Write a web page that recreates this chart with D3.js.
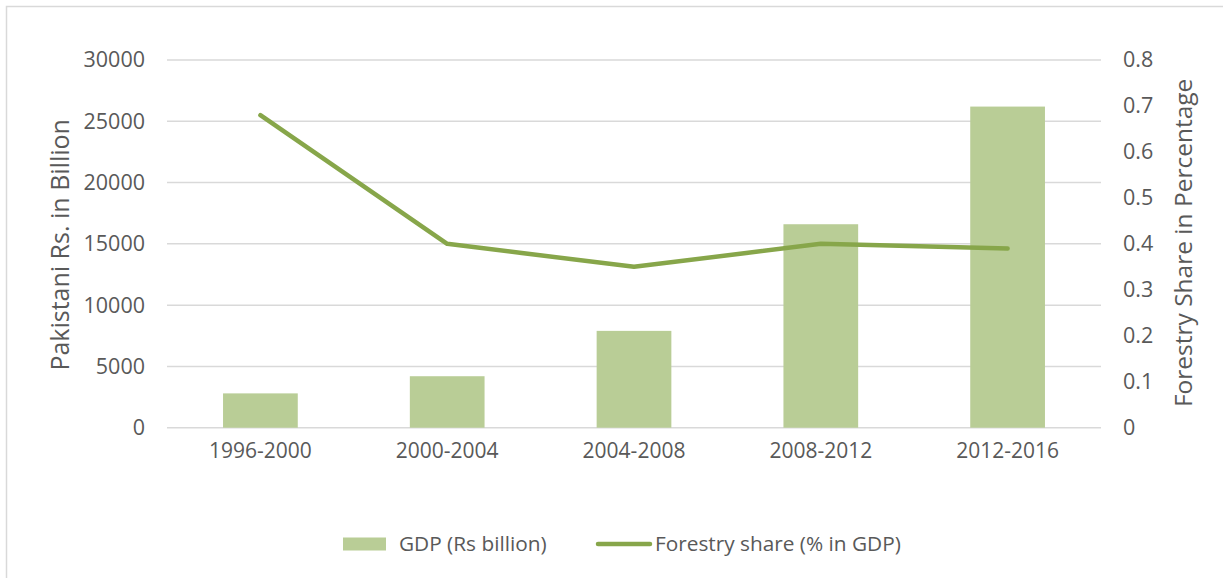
<!DOCTYPE html>
<html>
<head>
<meta charset="utf-8">
<script src="https://cdn.jsdelivr.net/npm/d3@7"></script>
<style>
  body { margin: 0; background: #fff; }
  svg text { font-family: "Open Sans", "Liberation Sans", sans-serif; fill: #595959; }
</style>
</head>
<body>
<svg id="chart"></svg>
<script>
// periods on the x axis
var periods = ["1996-2000", "2000-2004", "2004-2008", "2008-2012", "2012-2016"];
// GDP in Rs billion (bars, left axis)
var gdp = [2800, 4200, 7900, 16600, 26200];
// forestry share of GDP in % (line, right axis)
var forestryShare = [0.68, 0.40, 0.35, 0.40, 0.39];
var leftTicks = [0, 5000, 10000, 15000, 20000, 25000, 30000];
var rightTicks = [0, 0.1, 0.2, 0.3, 0.4, 0.5, 0.6, 0.7, 0.8];

var width = 1223, height = 578;
var plot = { left: 167, right: 1101, top: 60, bottom: 427.7 };

var svg = d3.select("#chart")
    .attr("width", width)
    .attr("height", height);

// chart frame, runs off the right and bottom edge like the source
svg.append("rect")
    .attr("x", 6.5).attr("y", 6.5)
    .attr("width", width + 20).attr("height", height + 20)
    .attr("fill", "none")
    .attr("stroke", "#d9d9d9")
    .attr("stroke-width", 1.5);

var x = d3.scaleBand()
    .domain(periods)
    .range([plot.left, plot.right])
    .paddingInner(0.6)
    .paddingOuter(0.3);

var yLeft = d3.scaleLinear().domain([0, 30000]).range([plot.bottom, plot.top]);
var yRight = d3.scaleLinear().domain([0, 0.8]).range([plot.bottom, plot.top]);

// gridlines
svg.append("g")
    .selectAll("line")
    .data(leftTicks)
  .enter().append("line")
    .attr("x1", plot.left).attr("x2", plot.right)
    .attr("y1", function(d) { return yLeft(d); })
    .attr("y2", function(d) { return yLeft(d); })
    .attr("stroke", "#d9d9d9")
    .attr("stroke-width", 1.5);

// left axis
var leftAxis = svg.append("g")
    .attr("transform", "translate(" + (plot.left - 22) + ",0)")
    .call(d3.axisLeft(yLeft).tickValues(leftTicks).tickSize(0).tickPadding(0).tickFormat(d3.format("d")));
leftAxis.select(".domain").remove();
leftAxis.selectAll("text").attr("font-size", 21.5).attr("fill", "#595959");

// right axis
var rightAxis = svg.append("g")
    .attr("transform", "translate(" + (plot.right + 22) + ",0)")
    .call(d3.axisRight(yRight).tickValues(rightTicks).tickSize(0).tickPadding(0)
      .tickFormat(function(d) { return d === 0 ? "0" : d3.format(".1f")(d); }));
rightAxis.select(".domain").remove();
rightAxis.selectAll("text").attr("font-size", 21.5).attr("fill", "#595959");

// bottom axis labels
var bottomAxis = svg.append("g")
    .attr("transform", "translate(0," + plot.bottom + ")")
    .call(d3.axisBottom(x).tickSize(0).tickPadding(15));
bottomAxis.select(".domain").remove();
bottomAxis.selectAll("text").attr("font-size", 21).attr("fill", "#595959");

// bars
svg.append("g")
    .selectAll("rect")
    .data(gdp)
  .enter().append("rect")
    .attr("x", function(d, i) { return x(periods[i]); })
    .attr("y", function(d) { return yLeft(d); })
    .attr("width", x.bandwidth())
    .attr("height", function(d) { return plot.bottom - yLeft(d); })
    .attr("fill", "#b9cd96");

// line
var line = d3.line()
    .x(function(d, i) { return x(periods[i]) + x.bandwidth() / 2; })
    .y(function(d) { return yRight(d); });

svg.append("path")
    .datum(forestryShare)
    .attr("d", line)
    .attr("fill", "none")
    .attr("stroke", "#87a64a")
    .attr("stroke-width", 4.5)
    .attr("stroke-linecap", "round")
    .attr("stroke-linejoin", "round");

// axis titles
svg.append("text")
    .attr("transform", "translate(69," + ((plot.top + plot.bottom) / 2 + 1) + ") rotate(-90)")
    .attr("text-anchor", "middle")
    .attr("font-size", 25)
    .text("Pakistani Rs. in Billion");

svg.append("text")
    .attr("transform", "translate(1192," + ((plot.top + plot.bottom) / 2 - 1) + ") rotate(-90)")
    .attr("text-anchor", "middle")
    .attr("font-size", 24.5)
    .text("Forestry Share in Percentage");

// legend
var legend = svg.append("g").attr("transform", "translate(0,544)");
legend.append("rect")
    .attr("x", 343).attr("y", -6.5)
    .attr("width", 43).attr("height", 13)
    .attr("fill", "#b9cd96");
legend.append("text")
    .attr("x", 399).attr("dy", "0.35em")
    .attr("font-size", 20.8)
    .text("GDP (Rs billion)");
legend.append("line")
    .attr("x1", 598).attr("x2", 650)
    .attr("stroke", "#87a64a")
    .attr("stroke-width", 4.5)
    .attr("stroke-linecap", "round");
legend.append("text")
    .attr("x", 655).attr("dy", "0.35em")
    .attr("font-size", 20.8)
    .text("Forestry share (% in GDP)");
</script>
</body>
</html>
